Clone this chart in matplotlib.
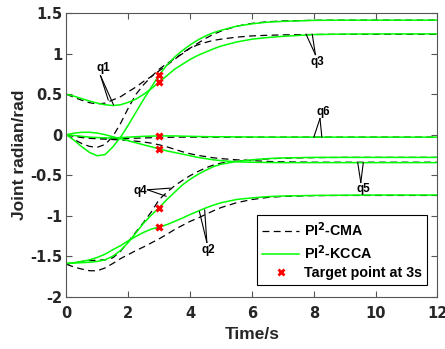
import matplotlib
matplotlib.use("Agg")
import matplotlib.pyplot as plt
from matplotlib.lines import Line2D

# ---------------- data ----------------
time = [0, 0.25, 0.5, 0.75, 1, 1.25, 1.5, 1.75, 2, 2.25, 2.5, 2.75, 3, 3.25, 3.5,
        3.75, 4, 4.25, 4.5, 4.75, 5, 5.5, 6, 6.5, 7, 8, 9, 10, 11, 12]

# PI2-CMA (dashed black)
cma_q1 = [0.50, 0.46, 0.425, 0.395, 0.38, 0.39, 0.43, 0.47, 0.53, 0.59, 0.66, 0.72, 0.79, 0.86, 0.93,
          1.01, 1.07, 1.11, 1.14, 1.165, 1.18, 1.205, 1.22, 1.228, 1.233, 1.238, 1.24, 1.24, 1.24, 1.24]
cma_q3 = [0.0, -0.06, -0.11, -0.145, -0.155, -0.12, -0.02, 0.14, 0.33, 0.50, 0.62, 0.72, 0.81, 0.88, 0.94,
          1.0, 1.07, 1.13, 1.19, 1.24, 1.28, 1.34, 1.375, 1.395, 1.405, 1.413, 1.415, 1.415, 1.415, 1.415]
cma_q6 = [0.0, -0.015, -0.025, -0.035, -0.04, -0.043, -0.045, -0.045, -0.045, -0.043, -0.04, -0.037, -0.035, -0.033, -0.03,
          -0.03, -0.03, -0.03, -0.03, -0.03, -0.03, -0.03, -0.03, -0.03, -0.03, -0.03, -0.03, -0.03, -0.03, -0.03]
cma_q5 = [0.0, -0.02, -0.035, -0.045, -0.05, -0.055, -0.06, -0.065, -0.07, -0.08, -0.09, -0.105, -0.125, -0.15, -0.18,
          -0.21, -0.235, -0.255, -0.27, -0.285, -0.295, -0.31, -0.32, -0.33, -0.335, -0.34, -0.34, -0.34, -0.34, -0.34]
cma_q4 = [-1.6, -1.58, -1.565, -1.555, -1.55, -1.545, -1.52, -1.44, -1.32, -1.2, -1.08, -0.95, -0.80, -0.71, -0.63,
          -0.565, -0.505, -0.455, -0.41, -0.375, -0.35, -0.325, -0.31, -0.298, -0.29, -0.283, -0.28, -0.28, -0.28, -0.28]
cma_q2 = [-1.6, -1.635, -1.66, -1.68, -1.68, -1.645, -1.59, -1.53, -1.48, -1.43, -1.385, -1.335, -1.285, -1.23, -1.17,
          -1.12, -1.07, -1.03, -0.985, -0.94, -0.9, -0.84, -0.8, -0.775, -0.762, -0.752, -0.75, -0.75, -0.75, -0.75]

# PI2-KCCA (green)
kcca_q1 = [0.50, 0.475, 0.445, 0.415, 0.39, 0.37, 0.36, 0.37, 0.40, 0.44, 0.50, 0.57, 0.65, 0.73, 0.81,
           0.87, 0.93, 0.98, 1.02, 1.06, 1.095, 1.145, 1.18, 1.20, 1.215, 1.237, 1.243, 1.245, 1.245, 1.245]
kcca_q3 = [0.0, -0.07, -0.15, -0.22, -0.26, -0.245, -0.15, -0.03, 0.12, 0.28, 0.44, 0.59, 0.74, 0.86, 0.96,
           1.04, 1.11, 1.17, 1.22, 1.26, 1.29, 1.34, 1.37, 1.39, 1.40, 1.412, 1.415, 1.415, 1.415, 1.415]
kcca_q6 = [0.0, -0.01, -0.02, -0.03, -0.035, -0.04, -0.04, -0.035, -0.03, -0.025, -0.02, -0.017, -0.015, -0.015, -0.015,
           -0.018, -0.02, -0.022, -0.024, -0.025, -0.025, -0.027, -0.028, -0.03, -0.03, -0.03, -0.03, -0.03, -0.03, -0.03]
kcca_q5 = [0.0, 0.02, 0.03, 0.03, 0.02, 0.0, -0.025, -0.05, -0.075, -0.1, -0.125, -0.15, -0.175, -0.2, -0.22,
           -0.24, -0.26, -0.28, -0.295, -0.31, -0.32, -0.335, -0.34, -0.343, -0.345, -0.345, -0.345, -0.345, -0.345, -0.345]
kcca_q4 = [-1.59, -1.585, -1.58, -1.575, -1.565, -1.545, -1.50, -1.43, -1.33, -1.21, -1.09, -0.99, -0.90, -0.80, -0.71,
           -0.62, -0.55, -0.49, -0.44, -0.395, -0.365, -0.33, -0.31, -0.295, -0.287, -0.28, -0.28, -0.28, -0.28, -0.28]
kcca_q2 = [-1.59, -1.58, -1.565, -1.545, -1.515, -1.475, -1.42, -1.37, -1.31, -1.255, -1.205, -1.165, -1.14, -1.11, -1.07,
           -1.03, -0.985, -0.945, -0.905, -0.87, -0.84, -0.8, -0.78, -0.765, -0.757, -0.75, -0.747, -0.745, -0.745, -0.745]

target_t = [3, 3, 3, 3, 3, 3]
target_y = [0.738, 0.648, -0.015, -0.175, -0.90, -1.142]

x_ticks = [0, 2, 4, 6, 8, 10, 12]
y_ticks = [-2, -1.5, -1, -0.5, 0, 0.5, 1, 1.5]
y_tick_labels = ["-2", "-1.5", "-1", "-0.5", "0", "0.5", "1", "1.5"]
legend_labels = ["PI$^{\\mathbf{2}}$-CMA", "PI$^{\\mathbf{2}}$-KCCA", "Target point at 3s"]

# ---------------- plot ----------------
plt.rcParams['font.family'] = ['Liberation Sans', 'DejaVu Sans']
plt.rcParams['font.weight'] = 'bold'
plt.rcParams['mathtext.default'] = 'bf'

fig = plt.figure(figsize=(4.45, 3.49), dpi=100)
ax = fig.add_axes([0.1494, 0.150, 0.8337, 0.812])

green = '#00ff00'
dash = (0, (5.5, 3.5))
for ys in [cma_q1, cma_q3, cma_q6, cma_q5, cma_q4, cma_q2]:
    ax.plot(time, ys, color='black', lw=0.9, linestyle=dash)
for ys in [kcca_q1, kcca_q3, kcca_q6, kcca_q5, kcca_q4, kcca_q2]:
    ax.plot(time, ys, color=green, lw=1.1)
ax.plot(target_t, target_y, linestyle='none', marker='x', color='red',
        markersize=5, markeredgewidth=2.2)

ax.set_xlim(0, 12)
ax.set_ylim(-2, 1.5)
ax.set_xticks(x_ticks)
ax.set_yticks(y_ticks)
ax.set_yticklabels(y_tick_labels)
ax.tick_params(direction='in', length=4, width=0.8, top=True, right=True,
               color='#555555', labelcolor='#262626', labelsize=10.5)
ax.tick_params(axis='x', pad=7)
ax.tick_params(axis='y', pad=3)
for lab in ax.get_xticklabels() + ax.get_yticklabels():
    lab.set_fontweight('bold')
    lab.set_family(['DejaVu Sans'])
for sp in ax.spines.values():
    sp.set_color('#555555')
    sp.set_linewidth(0.8)

ax.set_xlabel('Time/s', fontsize=12.5, fontweight='bold', color='#262626', labelpad=4)
ax.set_ylabel('Joint radian/rad', fontsize=12.5, fontweight='bold', color='#262626', labelpad=2)

# annotations
ann_lw = 0.8
def lines(start, ends):
    for e in ends:
        ax.plot([start[0], e[0]], [start[1], e[1]], color='black', lw=ann_lw)

ax.text(1.18, 0.82, 'q1', fontsize=8.5, fontweight='bold', ha='center', va='center')
lines((1.1, 0.73), [(1.35, 0.43), (1.52, 0.37)])
ax.text(8.1, 0.90, 'q3', fontsize=8.5, fontweight='bold', ha='center', va='center')
lines((8.05, 0.99), [(7.75, 1.24), (7.95, 1.24)])
ax.text(8.3, 0.285, 'q6', fontsize=8.5, fontweight='bold', ha='center', va='center')
lines((8.2, 0.2), [(8.0, -0.03), (8.26, -0.03)])
ax.text(9.6, -0.67, 'q5', fontsize=8.5, fontweight='bold', ha='center', va='center')
lines((9.52, -0.59), [(9.42, -0.345), (9.6, -0.345)])
ax.text(2.38, -0.70, 'q4', fontsize=8.5, fontweight='bold', ha='center', va='center')
lines((2.62, -0.68), [(3.35, -0.66), (3.22, -0.76)])
ax.text(4.59, -1.43, 'q2', fontsize=8.5, fontweight='bold', ha='center', va='center')
lines((4.54, -1.33), [(4.3, -0.95), (4.47, -0.93)])

handles = [Line2D([], [], color='black', lw=0.9, linestyle=dash),
           Line2D([], [], color=green, lw=1.1),
           Line2D([], [], linestyle='none', marker='x', color='red', markersize=4, markeredgewidth=2)]
leg = ax.legend(handles, legend_labels, loc='lower right', bbox_to_anchor=(0.971, 0.041),
                prop={'weight': 'bold', 'size': 10.3}, frameon=True, fancybox=False,
                edgecolor='black', framealpha=1, borderpad=0.35, labelspacing=0.3,
                handlelength=2.6, handletextpad=0.3, borderaxespad=0)
leg.get_frame().set_linewidth(0.8)

fig.savefig('out.png', dpi=100)
